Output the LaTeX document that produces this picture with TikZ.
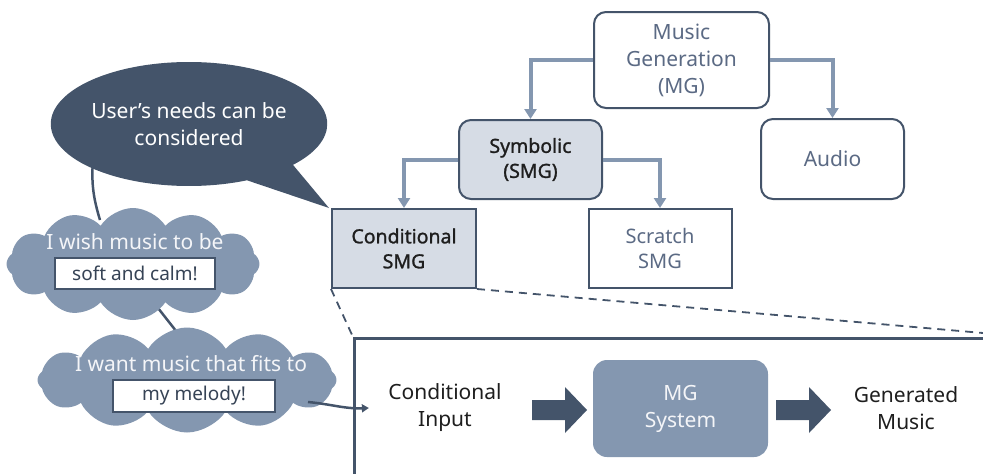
\documentclass[tikz,border=0pt]{standalone}
\usepackage{fontspec}
\setmainfont{Noto Sans}
\newfontfamily\medfont{Noto Sans}[FakeBold=1.2]
\usetikzlibrary{shapes.symbols,shapes.callouts,arrows.meta,backgrounds}
\definecolor{slate}{HTML}{44546A}
\definecolor{steel}{HTML}{8497B0}
\definecolor{mist}{HTML}{D6DCE5}
\definecolor{greytext}{HTML}{5B6A84}
\definecolor{inktext}{HTML}{1E1E1E}
\definecolor{cloudtext}{HTML}{F4F5F8}
\begin{document}
\begin{tikzpicture}[x=1pt,y=-1pt,
  big/.style={font=\fontsize{21}{27}\selectfont},
  treebox/.style={draw=slate, line width=2pt, fill=white, text=greytext,
    align=center, inner sep=0pt, big},
  roundbox/.style={treebox, rounded corners=12pt},
  keybox/.style={fill=mist, text=inktext,
    font=\medfont\fontsize{19.5}{25}\selectfont},
  branch/.style={draw=steel, line width=4pt, -{Triangle[width=12pt,length=10pt]}},
  zoomline/.style={draw=slate, line width=1.8pt, dash pattern=on 8pt off 6pt},
  puff/.style={cloud, cloud puffs=12, cloud puff arc=115, cloud ignores aspect,
    fill=steel, inner sep=0pt},
  cloudsay/.style={text=cloudtext, font=\fontsize{21}{27}\selectfont},
  quotebox/.style={draw=slate, line width=2.5pt, fill=white, text=slate!80!black,
    inner sep=0pt, font=\fontsize{19}{24}\selectfont},
  thread/.style={draw=slate, line width=2.5pt},
  blockarrow/.style={fill=slate},
  plain/.style={text=inktext, align=center, big}]
\useasboundingbox (0,0) rectangle (983,474);

% taxonomy tree
\node (mg) [roundbox, minimum width=175pt, minimum height=96pt] at (681.5,60)
  {Music\\Generation\\(MG)};
\node (sym) [roundbox, keybox, minimum width=143pt, minimum height=79pt] at (530.5,159.5)
  {Symbolic\\(SMG)};
\node (audio) [roundbox, minimum width=143pt, minimum height=80pt] at (832.5,159)
  {Audio};
\node (cond) [treebox, keybox, minimum width=144pt, minimum height=79pt] at (404,248.5)
  {Conditional\\SMG};
\node (scratch) [treebox, font=\fontsize{20}{25}\selectfont, minimum width=143pt, minimum height=79pt] at (660,248.5)
  {Scratch\\SMG};

\draw[branch] (mg.west) -| (sym.north);
\draw[branch] (mg.east) -| (audio.north);
\draw[branch] (sym.west) -| (cond.north);
\draw[branch] (sym.east) -| (scratch.north);

% magnified panel of the conditional pipeline
\node (panel) [draw=slate, line width=2.5pt, anchor=north west,
  minimum width=700pt, minimum height=200pt, inner sep=0pt] at (353,337) {};
\coordinate (zoomend) at (983,333);
\draw[zoomline] (cond.south west) -- (panel.north west);
\draw[zoomline] (cond.south east) -- (zoomend);

\node (cin) [plain] at (445,408) {Conditional\\Input};
\node (mgsys) [fill=steel, rounded corners=14pt, minimum width=175pt,
  minimum height=97pt, text=cloudtext, align=center, big] at (680.5,408.5)
  {MG\\System};
\node (gen) [plain] at (906,408) {Generated\\Music};

\fill[blockarrow] (532,400) -- (565,400) -- (565,387) -- (587,410)
  -- (565,433) -- (565,420) -- (532,420) -- cycle;
\fill[blockarrow] (776,400) -- (809,400) -- (809,387) -- (831,410)
  -- (809,433) -- (809,420) -- (776,420) -- cycle;

% user's speech bubble and thought clouds
\node (bubble) [ellipse callout, fill=slate, minimum width=272pt, minimum height=124pt,
  callout absolute pointer={(329,208)}, callout pointer arc=24, inner sep=0pt,
  text=white, align=center, big] at (189,124)
  {User’s needs can be\\considered};

\node (cloud1) [puff, minimum width=253pt, minimum height=112pt] at (133,264) {};
\node (wish) [cloudsay] at (135,242) {I wish music to be};
\node (soft) [quotebox, minimum width=160pt, minimum height=31pt] at (135,273.5)
  {soft and calm!};

\node (cloud2) [puff, minimum width=299pt, minimum height=105pt] at (187,380) {};
\node (want) [cloudsay] at (191,364) {I want music that fits to};
\node (melody) [quotebox, minimum width=162pt, minimum height=32pt] at (194,396)
  {my melody!};

\coordinate (b1) at (93,160);
\coordinate (c1) at (100,220);
\coordinate (c2) at (158,308);
\coordinate (c3) at (180,336);
\coordinate (c4) at (308,402);
\begin{scope}[on background layer]
  \draw[thread] (b1) .. controls (91,185) and (94,200) .. (c1);
  \draw[thread] (c2) -- (c3);
\end{scope}
\draw[thread, -{Triangle[width=8pt,length=7pt]}]
  (c4) .. controls (330,404) and (345,409) .. ([xshift=-16pt]cin.west);
\end{tikzpicture}
\end{document}
